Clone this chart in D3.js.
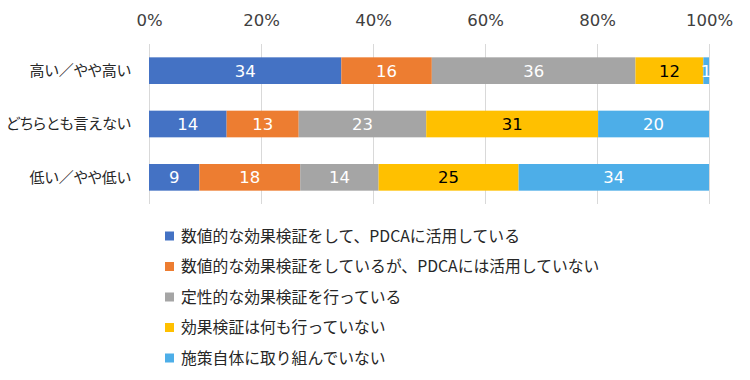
<!DOCTYPE html>
<html>
<head>
<meta charset="utf-8">
<script src="https://cdn.jsdelivr.net/npm/d3@7"></script>
<style>
  html, body { margin: 0; padding: 0; background: #fff; }
  svg { display: block; font-family: "DejaVu Sans", "Noto Sans CJK JP", sans-serif; }
  .jp { font-feature-settings: "palt" 1; }
</style>
</head>
<body>
<svg id="chart" width="750" height="380"></svg>
<script>
const categories = ["高い／やや高い", "どちらとも言えない", "低い／やや低い"];
const seriesNames = [
  "数値的な効果検証をして、PDCAに活用している",
  "数値的な効果検証をしているが、PDCAには活用していない",
  "定性的な効果検証を行っている",
  "効果検証は何も行っていない",
  "施策自体に取り組んでいない"
];
const s1 = [34, 14, 9];
const s2 = [16, 13, 18];
const s3 = [36, 23, 14];
const s4 = [12, 31, 25];
const s5 = [1, 20, 34];
const tickValues = [0, 0.2, 0.4, 0.6, 0.8, 1.0];
const colors = ["#4472C4", "#ED7D31", "#A5A5A5", "#FFC000", "#4DAEE8"];
const labelColors = ["#fff", "#fff", "#fff", "#000", "#fff"];

const seriesValues = [s1, s2, s3, s4, s5];
const keys = seriesNames.map((d, i) => "k" + i);
const table = categories.map((c, ci) => {
  const row = { cat: c };
  keys.forEach((k, si) => row[k] = seriesValues[si][ci]);
  return row;
});

const svg = d3.select("#chart");
const x = d3.scaleLinear().domain([0, 1]).range([149, 709]);
const y = d3.scaleBand().domain(categories).range([44, 204]).paddingInner(0.5).paddingOuter(0.25);

// gridlines
svg.append("g").selectAll("line").data(tickValues).join("line")
  .attr("x1", d => x(d)).attr("x2", d => x(d))
  .attr("y1", 44).attr("y2", 204)
  .attr("stroke", "#d9d9d9").attr("stroke-width", 1).attr("shape-rendering", "crispEdges");

// top axis labels
const xAxis = d3.axisTop(x).tickValues(tickValues).tickFormat(d3.format(".0%")).tickSize(0).tickPadding(0);
const gx = svg.append("g").attr("transform", "translate(0,26)").call(xAxis);
gx.select(".domain").remove();
gx.selectAll("text").attr("font-size", 16.5).attr("fill", "#404040")
  .attr("font-family", "\"DejaVu Sans\", sans-serif");

// category labels
const yAxis = d3.axisLeft(y).tickSize(0).tickPadding(0);
const gy = svg.append("g").attr("transform", "translate(131,0)").call(yAxis);
gy.select(".domain").remove();
gy.selectAll("text").attr("class", "jp").attr("font-size", 15).attr("fill", "#262626")
  .attr("font-family", "\"Noto Sans CJK JP\", sans-serif").attr("dy", "0.35em");

const stack = d3.stack().keys(keys).offset(d3.stackOffsetExpand);
const stacked = stack(table);

const groups = svg.append("g").selectAll("g").data(stacked).join("g")
  .attr("fill", (d, i) => colors[i]);
groups.selectAll("rect").data(d => d).join("rect")
  .attr("x", d => x(d[0]))
  .attr("y", d => y(d.data.cat))
  .attr("width", d => x(d[1]) - x(d[0]))
  .attr("height", y.bandwidth());

svg.append("g").selectAll("g").data(stacked).join("g")
  .each(function(s, si) {
    d3.select(this).selectAll("text").data(s).join("text")
      .attr("x", d => (x(d[0]) + x(d[1])) / 2)
      .attr("y", d => y(d.data.cat) + y.bandwidth() / 2)
      .attr("dy", "0.36em")
      .attr("text-anchor", "middle")
      .attr("font-size", 16.5)
      .attr("fill", labelColors[si])
      .text(d => d.data[s.key]);
  });

// legend
const legend = svg.append("g").selectAll("g").data(seriesNames).join("g")
  .attr("transform", (d, i) => `translate(165,${236 + i * 30.5})`);
legend.append("rect").attr("x", 0).attr("y", -4.5).attr("width", 9).attr("height", 9)
  .attr("fill", (d, i) => colors[i]);
legend.append("text").attr("x", 16).attr("dy", "0.36em")
  .attr("font-size", 15.8).attr("fill", "#262626")
  .attr("font-family", "\"Noto Sans CJK JP\", \"DejaVu Sans\", sans-serif")
  .text(d => d);
</script>
</body>
</html>
